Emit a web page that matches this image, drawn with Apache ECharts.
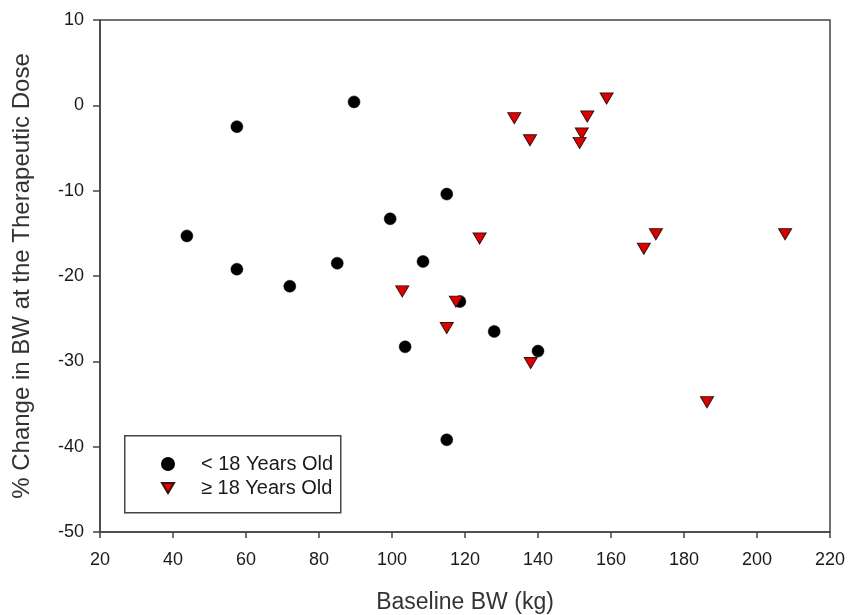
<!DOCTYPE html>
<html>
<head>
<meta charset="utf-8">
<script src="https://cdn.jsdelivr.net/npm/echarts@6/dist/echarts.min.js"></script>
<style>html,body{margin:0;padding:0;background:#fff}#c{width:850px;height:615px}</style>
</head>
<body>
<div id="c"></div>
<script>
const xTicks = [20, 40, 60, 80, 100, 120, 140, 160, 180, 200, 220];
const yTicks = [-50, -40, -30, -20, -10, 0, 10];
const seriesNames = ['< 18 Years Old', '\u2265 18 Years Old'];
const under18X = [43.8, 57.5, 57.5, 72, 85, 89.6, 99.5, 103.6, 108.5, 115, 118.6, 115, 128, 140];
const under18Y = [-15.3, -2.5, -19.2, -21.2, -18.5, 0.4, -13.3, -28.3, -18.3, -10.4, -23, -39.2, -26.5, -28.8];
const adultX = [102.8, 115, 117.5, 124, 138, 133.5, 137.8, 153.5, 152, 151.4, 158.8, 169, 172.3, 186.3, 207.7];
const adultY = [-21.8, -26.1, -23, -15.6, -30.2, -1.5, -4.1, -1.3, -3.3, -4.4, 0.8, -16.8, -15.1, -34.8, -15.1];

const pts = (xs, ys) => xs.map((x, i) => [x, ys[i]]);
const txt = '#1a1a1a';
const font = "'Liberation Sans', Arial, sans-serif";

const chart = echarts.init(document.getElementById('c'));
chart.setOption({
  animation: false,
  backgroundColor: '#fff',
  grid: { left: 100, right: 20, top: 20, bottom: 83, outerBoundsMode: 'none', containLabel: false,
          show: true, borderColor: '#444', borderWidth: 1.5, backgroundColor: 'transparent' },
  xAxis: {
    type: 'value', min: xTicks[0], max: xTicks[xTicks.length - 1], interval: 20,
    name: 'Baseline BW (kg)', nameLocation: 'middle', nameGap: 59,
    nameTextStyle: { fontSize: 23, color: '#333', fontFamily: font },
    axisLine: { show: true, onZero: false, lineStyle: { color: '#444', width: 1.5 } },
    axisTick: { show: true, length: 6, lineStyle: { color: '#444', width: 1.5 } },
    axisLabel: { fontSize: 18, color: txt, margin: 19, fontFamily: font },
    splitLine: { show: false }
  },
  yAxis: {
    type: 'value', min: yTicks[0], max: yTicks[yTicks.length - 1], interval: 10,
    name: '% Change in BW at the Therapeutic Dose', nameLocation: 'middle', nameGap: 66,
    nameTextStyle: { fontSize: 24, color: '#333', fontFamily: font },
    axisLine: { show: true, onZero: false, lineStyle: { color: '#444', width: 1.5 } },
    axisTick: { show: true, length: 7, lineStyle: { color: '#444', width: 1.5 } },
    axisLabel: { fontSize: 18, color: txt, margin: 16, fontFamily: font },
    splitLine: { show: false }
  },
  graphic: [{
    type: 'rect', left: 124, top: 435, z: 1,
    shape: { width: 216, height: 77 },
    style: { fill: '#fff', stroke: '#444', lineWidth: 1.5 }
  }],
  legend: {
    orient: 'vertical', left: 156, top: 449, itemGap: 4, z: 10,
    itemWidth: 12, itemHeight: 12,
    textStyle: { fontSize: 20, color: txt, fontFamily: font, padding: [0, 0, 0, 22] },
    data: [
      { name: seriesNames[0], icon: 'circle', itemStyle: { opacity: 1 } },
      { name: seriesNames[1], icon: 'path://M0,0 L12,0 L6,10 Z' }
    ]
  },
  series: [
    {
      name: seriesNames[0], type: 'scatter', symbol: 'circle', symbolSize: 12,
      itemStyle: { color: '#000', borderColor: '#000', borderWidth: 0.5, opacity: 1 },
      data: pts(under18X, under18Y)
    },
    {
      name: seriesNames[1], type: 'scatter', symbol: 'triangle', symbolRotate: 180, symbolSize: [13, 11],
      itemStyle: { color: '#e00000', borderColor: '#3a1010', borderWidth: 1, opacity: 1 },
      data: pts(adultX, adultY)
    }
  ]
});
</script>
</body>
</html>
